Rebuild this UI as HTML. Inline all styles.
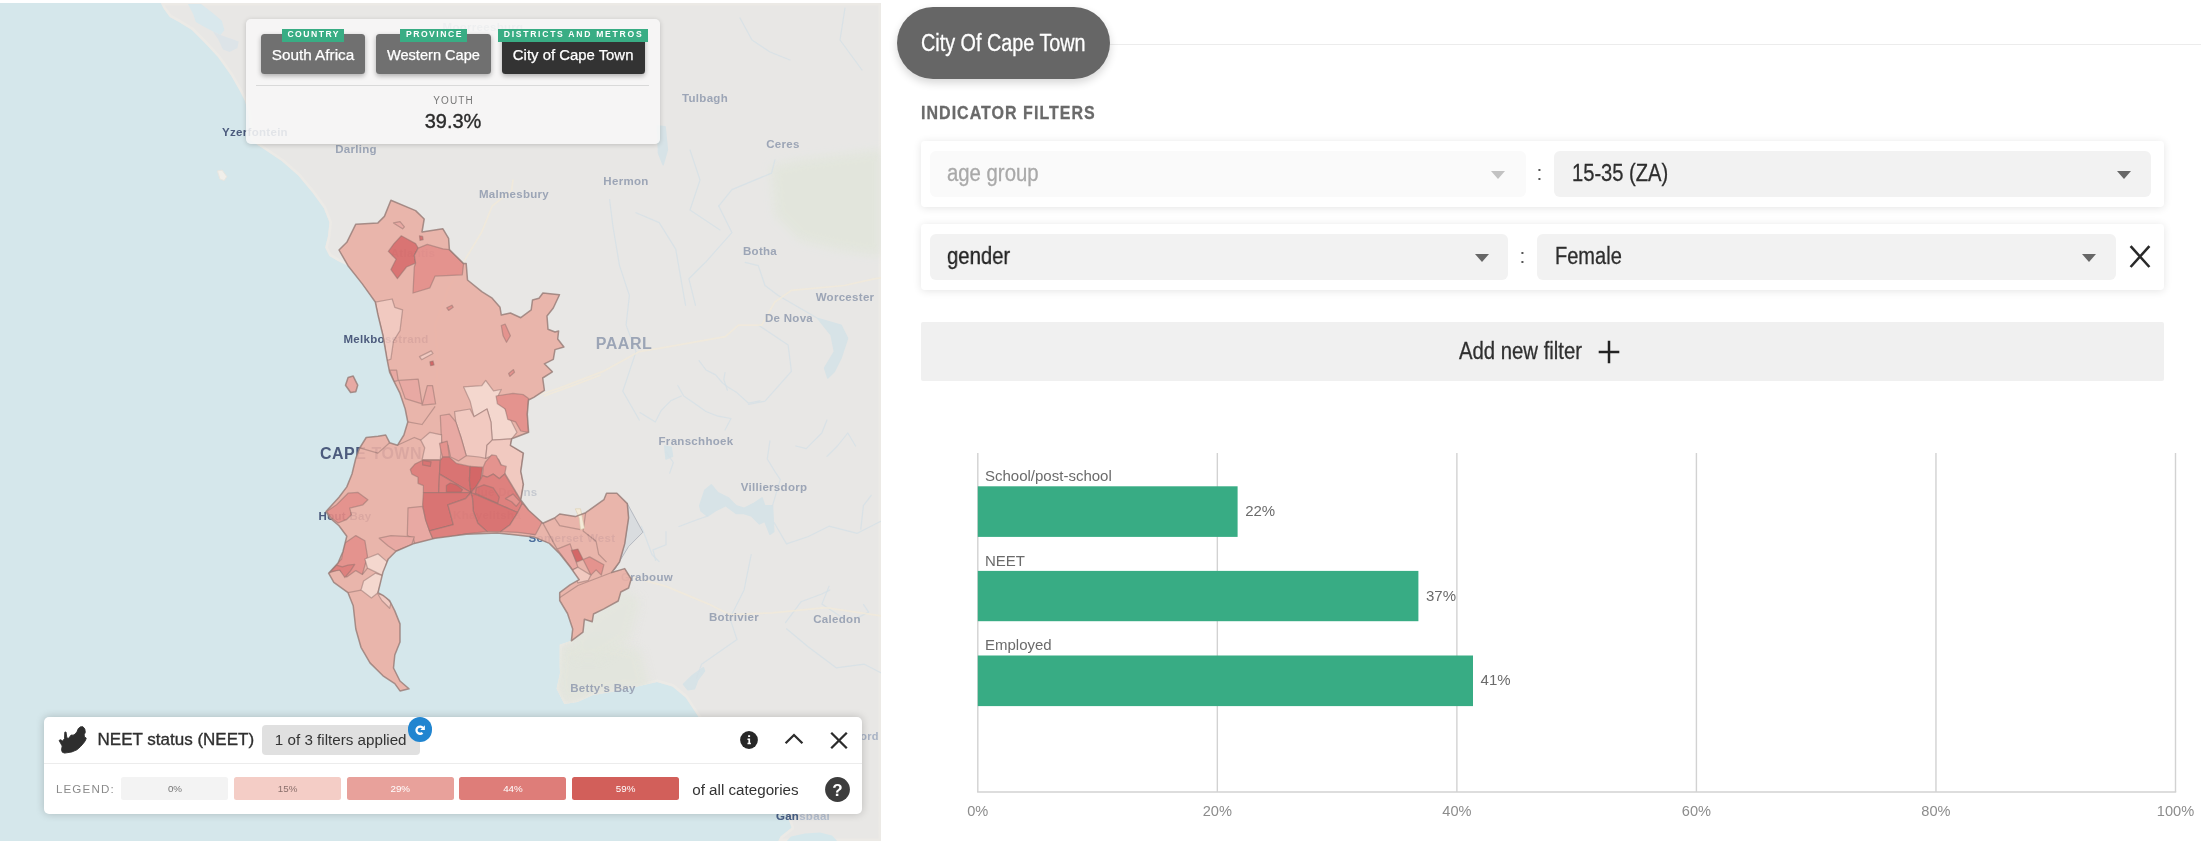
<!DOCTYPE html>
<html lang="en"><head><meta charset="utf-8"><title>City Of Cape Town - NEET status</title>
<style>
*{box-sizing:border-box;margin:0;padding:0}
html,body{width:2209px;height:847px;overflow:hidden;background:#fff}
#root{position:absolute;left:0;top:0;width:2209px;height:847px;overflow:hidden;will-change:transform}
body{position:relative;font-family:"Liberation Sans",sans-serif;color:#333}
.abs{position:absolute}
.nw{white-space:nowrap}
#map{position:absolute;left:0;top:3px;width:881px;height:838px;overflow:hidden;background:#e8e7e5}
.mapsvg{position:absolute;left:0;top:0;display:block}
.med{-webkit-text-stroke:0.35px currentColor}
/* breadcrumb panel */
#crumbs{position:absolute;left:246px;top:19px;width:414px;height:125px;background:rgba(247,247,247,.88);border-radius:5px;box-shadow:0 1px 5px rgba(0,0,0,.18)}
.cb{position:absolute;top:14.8px;height:39.8px;border-radius:3.5px;background:#707070;color:#fff;font-size:15.3px;line-height:20px;display:flex;align-items:center;justify-content:center;white-space:nowrap;box-shadow:0 2px 5px rgba(0,0,0,.3);padding-top:3.6px;-webkit-text-stroke:0.25px #fff}
.cb.dark{background:#333}
.tag{position:absolute;top:10px;height:12.6px;background:#39ad84;color:#fff;font-weight:bold;font-size:8.6px;line-height:11.4px;letter-spacing:1.55px;text-align:center;padding-left:1.5px;white-space:nowrap}
#crumbs .hr{position:absolute;left:10px;width:393px;top:65.6px;height:1.4px;background:#d9d9d9}
#crumbs .youth{position:absolute;left:0;width:414px;top:76.2px;text-align:center;font-size:10px;line-height:12px;letter-spacing:1.15px;color:#777;padding-left:1.15px}
#crumbs .val{position:absolute;left:0;width:414px;top:89.7px;text-align:center;font-size:20px;line-height:24px;color:#2b2b2b}
/* legend panel */
#legend{position:absolute;left:43.6px;top:717.4px;width:818.6px;height:97px;background:#fff;border-radius:5px;box-shadow:0 0 8px rgba(0,0,0,.2)}
#legend .hr{position:absolute;left:0;width:100%;top:45.2px;height:1.2px;background:#ececec}
#legend .title{position:absolute;left:54px;top:11px;font-size:17px;line-height:24px;color:#2f2f2f;white-space:nowrap}
#legend .chip{position:absolute;left:218.6px;top:7.6px;width:158px;height:30.4px;border-radius:4px;background:#e0e0e0;font-size:15.2px;line-height:30.4px;text-align:center;color:#333;white-space:nowrap;padding-right:1px}
#legend .blue{position:absolute;left:364px;top:0px;width:24.7px;height:24.7px;border-radius:50%;background:#2185d0}
#legend .lg{position:absolute;left:12.3px;top:64.6px;font-size:11.6px;line-height:14px;letter-spacing:1.15px;color:#8a8a8a}
.lb{position:absolute;top:59.5px;width:107px;height:23.2px;border-radius:2.5px;font-size:9.8px;line-height:23.6px;text-align:center;color:#fff}
#legend .oac{position:absolute;left:648.6px;top:63px;font-size:15.2px;line-height:20px;color:#333;white-space:nowrap}
/* right */
#pill{position:absolute;left:897.4px;top:7.2px;width:212.5px;height:71.7px;border-radius:36px;background:#666;box-shadow:0 4px 9px rgba(0,0,0,.16)}
.cond{position:absolute;white-space:nowrap;transform-origin:0 50%;display:inline-block;-webkit-text-stroke:0.3px currentColor}
#topline{position:absolute;left:1109px;top:43.8px;width:1092px;height:1.6px;background:#ececec}
.card{position:absolute;left:921.4px;width:1242.5px;background:#fff;border-radius:4px;box-shadow:0 1px 9px rgba(0,0,0,.11)}
.sel{position:absolute;height:45.8px;border-radius:6px;background:#f2f2f2}
.sel.dis{background:#fafafa}
.arr{position:absolute;width:0;height:0;border-left:7px solid transparent;border-right:7px solid transparent;border-top:8.2px solid #676767}
.arr.dis{border-top-color:#c2c2c2}
.colon{position:absolute;font-size:21px;line-height:24px;color:#555}
#addf{position:absolute;left:921.4px;top:322.4px;width:1242.5px;height:58.4px;background:#f0f0f0;border-radius:2px}
</style></head>
<body>
<div id="root">
<div id="map">
<svg class="mapsvg" style="filter:blur(0.7px)" width="881" height="838" viewBox="0 3 881 838">
<defs><clipPath id="cityclip"><path d="M339 250 L348 265.7 L362.3 283.9 L375.3 302 L378 315 L383 335.8 L387 359 L389.6 372.2 L393.5 380.4 L400 393.4 L405.2 409 L407.8 422 L403.9 435 L397.4 445.3 L389.6 442.7 L385.7 435 L378 436.2 L366.2 437.5 L359.7 448 L355.8 458.3 L352 474 L346.8 486.9 L339 497.3 L326 511.6 L329.9 518 L339 525.8 L346.8 536.2 L342.9 551.8 L338 563 L328.6 573.2 L333.8 582.3 L348 592.7 L353.2 605.7 L355.8 629 L361 647.3 L370 662.9 L383 675.8 L394.8 683.6 L400 690.9 L409 688.8 L400 681 L393.5 668 L394.8 655 L400 642 L400 623.9 L394.8 610.9 L389.6 600.5 L383 595.3 L378 592.7 L380.5 582.3 L383 572 L388.3 559 L396 551.2 L414.3 543.4 L435 538.2 L466.2 534.3 L497.4 533 L533.8 536.9 L549.4 543.4 L559.7 553.8 L570 566.8 L579.2 579.7 L570 584.9 L559.7 592.7 L559.7 600.5 L567.5 613.5 L572.7 629 L571.4 640.8 L583 632.2 L584.4 619.2 L592.2 621.8 L593.5 614 L603.9 608.8 L618.2 601 L620.8 592 L628.6 588 L631.2 579 L624.7 568.6 L611.7 572.5 L619.5 562 L624.7 543.9 L628.6 517.9 L627.3 503.6 L616.9 493.2 L606.5 493.2 L603.9 499.7 L585.7 512.7 L575.3 516.6 L559.7 514 L554.5 518 L542.9 523.2 L528.6 510.3 L520.8 499.9 L523.4 484.3 L520.8 471.3 L523.4 453.1 L510.4 445.3 L511.7 438.8 L528.6 432.3 L527.3 414.2 L528.5 400 L533.8 397.4 L544.4 390.4 L542.7 378 L552.4 371.8 L544.4 363.8 L553.3 359.4 L555 349.6 L563.9 347 L557.7 339 L558.6 331 L555 332 L548 329.3 L547 316 L553.3 308 L559.5 294.8 L542.9 293 L539 298.2 L532.5 300 L531.2 309.9 L520.8 317.7 L510.4 313 L501.3 315 L500 307.3 L492.2 298.2 L481.8 291.7 L467.5 280 L466.2 263.6 L463.6 263.6 L449.4 249.6 L448.6 238.4 L442.9 228.8 L422 232 L424.2 219 L415.6 210.6 L390.9 200.3 L384.4 216.4 L377.9 222.9 L355.8 224.2 L346.8 242.3Z"/></clipPath>
<clipPath id="landclip"><path d="M160.8 3 L164 9 L169.9 16.9 L179 22 L192 29.9 L205 42.9 L218 57 L231 75.3 L240 91 L245 101 L248.5 113 L249.8 126 L250.6 140.3 L266.2 150.6 L281.8 161 L298.3 175.4 L312.5 192.4 L323.8 208 L329.5 222.2 L328 236.3 L325.2 247.6 L329.5 256 L338 261 L348 265.7 L362.3 283.9 L375.3 302 L378 315 L383 335.8 L387 359 L389.6 372.2 L393.5 380.4 L400 393.4 L405.2 409 L407.8 422 L403.9 435 L397.4 445.3 L389.6 442.7 L385.7 435 L378 436.2 L366.2 437.5 L359.7 448 L355.8 458.3 L352 474 L346.8 486.9 L339 497.3 L326 511.6 L329.9 518 L339 525.8 L346.8 536.2 L342.9 551.8 L338 563 L328.6 573.2 L333.8 582.3 L348 592.7 L353.2 605.7 L355.8 629 L361 647.3 L370 662.9 L383 675.8 L394.8 683.6 L400 690.9 L409 688.8 L400 681 L393.5 668 L394.8 655 L400 642 L400 623.9 L394.8 610.9 L389.6 600.5 L383 595.3 L378 592.7 L380.5 582.3 L383 572 L388.3 559 L396 551.2 L414.3 543.4 L435 538.2 L466.2 534.3 L497.4 533 L533.8 536.9 L549.4 543.4 L559.7 553.8 L570 566.8 L579.2 579.7 L570 584.9 L559.7 592.7 L559.7 600.5 L567.5 613.5 L572.7 629 L571.4 640.8 L559.7 644.7 L559.7 665.5 L560 673 L556.6 688.7 L564.3 704 L577.5 702 L593 695 L617 691 L637 686.5 L657 682 L672.5 686.5 L685.7 697.5 L694.5 710.8 L699 717.4 L715 745 L740 775 L765 800 L787 814.5 L791.7 827.8 L780.6 836.6 L778.4 841 L881 841 L881 3Z"/></clipPath>
<linearGradient id="lg" x1="0" y1="0" x2="1" y2="0"><stop offset="0" stop-color="#e6e5e2"/><stop offset="1" stop-color="#e4e3e1"/></linearGradient>
<filter id="soft" x="-20%" y="-20%" width="140%" height="140%"><feGaussianBlur stdDeviation="5"/></filter>
</defs>
<rect x="0" y="3" width="881" height="838" fill="#d5e7eb"/>
<path d="M160.8 3 L164 9 L169.9 16.9 L179 22 L192 29.9 L205 42.9 L218 57 L231 75.3 L240 91 L245 101 L248.5 113 L249.8 126 L250.6 140.3 L266.2 150.6 L281.8 161 L298.3 175.4 L312.5 192.4 L323.8 208 L329.5 222.2 L328 236.3 L325.2 247.6 L329.5 256 L338 261 L348 265.7 L362.3 283.9 L375.3 302 L378 315 L383 335.8 L387 359 L389.6 372.2 L393.5 380.4 L400 393.4 L405.2 409 L407.8 422 L403.9 435 L397.4 445.3 L389.6 442.7 L385.7 435 L378 436.2 L366.2 437.5 L359.7 448 L355.8 458.3 L352 474 L346.8 486.9 L339 497.3 L326 511.6 L329.9 518 L339 525.8 L346.8 536.2 L342.9 551.8 L338 563 L328.6 573.2 L333.8 582.3 L348 592.7 L353.2 605.7 L355.8 629 L361 647.3 L370 662.9 L383 675.8 L394.8 683.6 L400 690.9 L409 688.8 L400 681 L393.5 668 L394.8 655 L400 642 L400 623.9 L394.8 610.9 L389.6 600.5 L383 595.3 L378 592.7 L380.5 582.3 L383 572 L388.3 559 L396 551.2 L414.3 543.4 L435 538.2 L466.2 534.3 L497.4 533 L533.8 536.9 L549.4 543.4 L559.7 553.8 L570 566.8 L579.2 579.7 L570 584.9 L559.7 592.7 L559.7 600.5 L567.5 613.5 L572.7 629 L571.4 640.8 L559.7 644.7 L559.7 665.5 L560 673 L556.6 688.7 L564.3 704 L577.5 702 L593 695 L617 691 L637 686.5 L657 682 L672.5 686.5 L685.7 697.5 L694.5 710.8 L699 717.4 L715 745 L740 775 L765 800 L787 814.5 L791.7 827.8 L780.6 836.6 L778.4 841 L881 841 L881 3Z" fill="#e8e7e5"/>
<path d="M160.8 3 L164 9 L169.9 16.9 L179 22 L192 29.9 L205 42.9 L218 57 L231 75.3 L240 91 L245 101 L248.5 113 L249.8 126 L250.6 140.3 L266.2 150.6 L281.8 161 L298.3 175.4 L312.5 192.4 L323.8 208 L329.5 222.2 L328 236.3 L325.2 247.6 L329.5 256 L338 261 L348 265.7 L362.3 283.9 L375.3 302 L378 315 L383 335.8 L387 359 L389.6 372.2 L393.5 380.4 L400 393.4 L405.2 409 L407.8 422 L403.9 435 L397.4 445.3 L389.6 442.7 L385.7 435 L378 436.2 L366.2 437.5 L359.7 448 L355.8 458.3 L352 474 L346.8 486.9 L339 497.3 L326 511.6 L329.9 518 L339 525.8 L346.8 536.2 L342.9 551.8 L338 563 L328.6 573.2 L333.8 582.3 L348 592.7 L353.2 605.7 L355.8 629 L361 647.3 L370 662.9 L383 675.8 L394.8 683.6 L400 690.9 L409 688.8 L400 681 L393.5 668 L394.8 655 L400 642 L400 623.9 L394.8 610.9 L389.6 600.5 L383 595.3 L378 592.7 L380.5 582.3 L383 572 L388.3 559 L396 551.2 L414.3 543.4 L435 538.2 L466.2 534.3 L497.4 533 L533.8 536.9 L549.4 543.4 L559.7 553.8 L570 566.8 L579.2 579.7 L570 584.9 L559.7 592.7 L559.7 600.5 L567.5 613.5 L572.7 629 L571.4 640.8 L559.7 644.7 L559.7 665.5 L560 673 L556.6 688.7 L564.3 704 L577.5 702 L593 695 L617 691 L637 686.5 L657 682 L672.5 686.5 L685.7 697.5 L694.5 710.8 L699 717.4 L715 745 L740 775 L765 800 L787 814.5 L791.7 827.8 L780.6 836.6 L778.4 841 L881 841 L881 3Z" fill="none" stroke="#eceae6" stroke-width="5" stroke-linejoin="round" clip-path="url(#landclip)"/>
<path d="M212.7 31.2 L220.5 35 L238.7 41.6 L237.4 48 L229.6 52 L223 49.4 L218 39Z" fill="#dde4e8"/>
<path d="M771 166 L800 160 L881 150 L881 256 L840 250 L800 240 L775 215Z" fill="#e2e5dc" opacity="0.9" filter="url(#soft)"/>
<path d="M560 645 L600 640 L640 650 L650 690 L617 691 L593 695 L577 702 L564 704 L556 689Z" fill="#e2e5dc" opacity="0.9" filter="url(#soft)" clip-path="url(#landclip)"/>
<path d="M571 640 L590 615 L625 590 L640 600 L630 640 L600 660 L575 660Z" fill="#e2e5dc" opacity="0.8" filter="url(#soft)" clip-path="url(#landclip)"/>
<path d="M786 842 L791 836.5 L805 833.5 L820 832.5 L832 835.5 L838 842Z" fill="#d5e7eb"/>
<path d="M188 3.9 L201 3.9 L212.7 13 L221.8 20.8 L224.4 29.9 L220.5 35 L212.7 31.2 L205 27.3 L195.8 22 L193.2 14.3Z" fill="#d9e8ed"/>
<path d="M817.9 318.5 L841 325.1 L847.6 338.3 L841 358.2 L834.4 371.4 L827.8 378 L824.5 368.1 L834.4 351.6 L831.1 335Z" fill="#d7e3e7" stroke="#d7e3e7" stroke-width="1.5" stroke-linejoin="round"/>
<path d="M699.7 505.7 L704.9 490.1 L711.4 484.9 L717.9 492.7 L728.3 497.9 L736.1 505.7 L743.9 508.3 L754.3 503.1 L762.1 497.9 L764.7 505.7 L772.5 505.7 L773.8 531.7 L769.9 534.3 L764.7 521.3 L759.5 523.9 L751.7 516.1 L743.9 513.5 L736.1 513.5 L725.7 505.7 L715.3 510.9 L707.5 516.1 L701 510.9Z" fill="#d7e3e7" stroke="#d7e3e7" stroke-width="1.5" stroke-linejoin="round"/>
<path d="M683.5 684.3 L692.3 675.5 L703.4 667.7 L704.5 671 L697.8 679.9 L694.5 688.7 L687.9 689.8Z" fill="#d7e3e7" stroke="#d7e3e7" stroke-width="1.5" stroke-linejoin="round"/>
<path d="M657.5 126.1 L665.1 126.8 L667.4 149.9 L663.1 164.8 L658.5 153.2Z" fill="#d7e3e7" stroke="#d7e3e7" stroke-width="1.5" stroke-linejoin="round"/>
<path d="M664.7 446 L671.2 447.3 L672.5 456.4 L666 459Z" fill="#d7e3e7" stroke="#d7e3e7" stroke-width="1.5" stroke-linejoin="round"/>
<path d="M609.6 199.5 L612.9 226 L619.5 265.6 L629.4 295.4 L626.1 325.1 L636 351.6 L622.8 391.2 L639.3 420" fill="none" stroke="#d6e1e6" stroke-width="1.2" opacity="0.85" stroke-linejoin="round" stroke-linecap="round"/>
<path d="M718.7 206.1 L731.9 232.6 L705.5 262.3 L688.9 278.8 L695.5 305.3" fill="none" stroke="#d6e1e6" stroke-width="1.2" opacity="0.85" stroke-linejoin="round" stroke-linecap="round"/>
<path d="M774.9 159.8 L771.6 173.1 L731.9 189.6 L718.7 206.1" fill="none" stroke="#d6e1e6" stroke-width="1.2" opacity="0.85" stroke-linejoin="round" stroke-linecap="round"/>
<path d="M745.1 262.3 L758.3 265.6 L765 285.5 L778.2 295.4 L817.9 318.5" fill="none" stroke="#d6e1e6" stroke-width="1.2" opacity="0.85" stroke-linejoin="round" stroke-linecap="round"/>
<path d="M758.3 325.1 L788.1 345 L791.4 371.4 L765 401.2 L748.4 404.5" fill="none" stroke="#d6e1e6" stroke-width="1.2" opacity="0.85" stroke-linejoin="round" stroke-linecap="round"/>
<path d="M636 212.7 L659.2 222.6 L675.7 249.1 L685.6 305.3" fill="none" stroke="#d6e1e6" stroke-width="1.2" opacity="0.85" stroke-linejoin="round" stroke-linecap="round"/>
<path d="M774.2 522.7 L786.5 543.9 L807.8 536.8 L829 526.2 L857.3 533.3 L885 519.1" fill="none" stroke="#d6e1e6" stroke-width="1.2" opacity="0.85" stroke-linejoin="round" stroke-linecap="round"/>
<path d="M751.2 554.5 L744.1 589.9 L729.9 618.2 L737 639.5 L701.6 664.2 L696.3 678.4" fill="none" stroke="#d6e1e6" stroke-width="1.2" opacity="0.85" stroke-linejoin="round" stroke-linecap="round"/>
<path d="M786.5 628.8 L807.8 646.5 L836.1 667.8 L864.4 664.2 L885 674.9" fill="none" stroke="#d6e1e6" stroke-width="1.2" opacity="0.85" stroke-linejoin="round" stroke-linecap="round"/>
<path d="M641.4 526.2 L652 554.5 L659.1 561.6" fill="none" stroke="#d6e1e6" stroke-width="1.2" opacity="0.85" stroke-linejoin="round" stroke-linecap="round"/>
<path d="M666.2 451.9 L673.3 462.5 L669.7 473.1" fill="none" stroke="#d6e1e6" stroke-width="1.2" opacity="0.85" stroke-linejoin="round" stroke-linecap="round"/>
<path d="M829 586.4 L821.9 604.1 L843.2 618.2" fill="none" stroke="#d6e1e6" stroke-width="1.2" opacity="0.85" stroke-linejoin="round" stroke-linecap="round"/>
<path d="M699 360.7 L706 370 L715.6 374.9 L722.6 383 L727.4 386.7 L736.8 392.6 L748.6 403.2 L760 400.8" fill="none" stroke="#d6e1e6" stroke-width="1.2" opacity="0.85" stroke-linejoin="round" stroke-linecap="round"/>
<path d="M725 372.5 L723.8 379.6 L727.4 390.2" fill="none" stroke="#d6e1e6" stroke-width="1.2" opacity="0.85" stroke-linejoin="round" stroke-linecap="round"/>
<path d="M677.8 385.5 L683.7 396 L694.3 403.2 L706 411.5 L718 416.2 L731 418.5 L725 430" fill="none" stroke="#d6e1e6" stroke-width="1.2" opacity="0.85" stroke-linejoin="round" stroke-linecap="round"/>
<path d="M681.3 396 L670.7 400.8 L661.3 410.3 L655.3 422 L640 412.6" fill="none" stroke="#d6e1e6" stroke-width="1.2" opacity="0.85" stroke-linejoin="round" stroke-linecap="round"/>
<path d="M769.9 440.8 L767.3 459 L775.1 471.9 L780.3 479.7 L772.5 505.7" fill="none" stroke="#d6e1e6" stroke-width="1.2" opacity="0.85" stroke-linejoin="round" stroke-linecap="round"/>
<path d="M795.8 446 L806.2 448.6 L821.8 433 L827 420" fill="none" stroke="#d6e1e6" stroke-width="1.2" opacity="0.85" stroke-linejoin="round" stroke-linecap="round"/>
<path d="M827 456.4 L837.4 446 L847.8 433 L855.6 446" fill="none" stroke="#d6e1e6" stroke-width="1.2" opacity="0.85" stroke-linejoin="round" stroke-linecap="round"/>
<path d="M655.6 560.3 L653 549.9 L666 544.7 L666 531.7" fill="none" stroke="#d6e1e6" stroke-width="1.2" opacity="0.85" stroke-linejoin="round" stroke-linecap="round"/>
<path d="M679 526.5 L699.7 518.7 L707.5 516.1" fill="none" stroke="#d6e1e6" stroke-width="1.2" opacity="0.85" stroke-linejoin="round" stroke-linecap="round"/>
<path d="M860.8 529.1 L863.4 505.7 L871.2 495.3" fill="none" stroke="#d6e1e6" stroke-width="1.2" opacity="0.85" stroke-linejoin="round" stroke-linecap="round"/>
<path d="M785.5 622.6 L801 601.8 L821.8 594 L829.6 590.1" fill="none" stroke="#d6e1e6" stroke-width="1.2" opacity="0.85" stroke-linejoin="round" stroke-linecap="round"/>
<path d="M863.4 604.4 L868.6 612.2 L858.2 617.4" fill="none" stroke="#d6e1e6" stroke-width="1.2" opacity="0.85" stroke-linejoin="round" stroke-linecap="round"/>
<path d="M740 18 L752 40 L770 52 L790 60" fill="none" stroke="#d6e1e6" stroke-width="1.2" opacity="0.85" stroke-linejoin="round" stroke-linecap="round"/>
<path d="M845 8 L840 40 L862 70" fill="none" stroke="#d6e1e6" stroke-width="1.2" opacity="0.85" stroke-linejoin="round" stroke-linecap="round"/>
<path d="M690 150 L700 180 L690 210 L720 230" fill="none" stroke="#d6e1e6" stroke-width="1.2" opacity="0.85" stroke-linejoin="round" stroke-linecap="round"/>
<path d="M540.2 394.5 L560 387.9 L603 371.4 L639.3 351.6 L669.1 346.6 L725.3 336.7 L738.5 325.1 L761.7 325.1 L774.9 302 L791.4 290.4 L844.3 285.5 L874 278.8 L885.6 277.2" fill="none" stroke="#f1ead9" stroke-width="1.7" opacity="0.8" stroke-linejoin="round" stroke-linecap="round"/>
<path d="M627.3 575.8 L666.2 586.4 L708.7 604.1 L729.9 614.7 L772.4 612.9 L825.5 607.6 L885 616.5" fill="none" stroke="#f1ead9" stroke-width="1.7" opacity="0.8" stroke-linejoin="round" stroke-linecap="round"/>
<path d="M513 180 L511.7 190.4 L492.2 206 L481.8 231.9 L466.2 257.9 L448.1 289.1 L435.1 325.5 L437.7 361.8 L435.1 400" fill="none" stroke="#f1ead9" stroke-width="1.7" opacity="0.8" stroke-linejoin="round" stroke-linecap="round"/>
<path d="M544.2 396 L572.7 385.6 L600 375.2" fill="none" stroke="#f1ead9" stroke-width="1.7" opacity="0.8" stroke-linejoin="round" stroke-linecap="round"/>
<path d="M217.4 170.9 L222.1 170.1 L226.8 176.6 L224.2 180.5 L220 179.2Z" fill="#f1efea" stroke="#e8e6e0" stroke-width="1"/>
<g font-family="'Liberation Sans', sans-serif" font-weight="bold" text-anchor="middle" letter-spacing="0.3">
<text x="483" y="31" font-size="11.5" fill="#9ca5b6" opacity="0.8">Moorreesburg</text>
<text x="705" y="102" font-size="11.5" fill="#9ca5b6" opacity="1">Tulbagh</text>
<text x="255" y="135.5" font-size="11.5" fill="#4c5b7d" opacity="1">Yzerfontein</text>
<text x="783" y="148" font-size="11.5" fill="#9ca5b6" opacity="1">Ceres</text>
<text x="356" y="153" font-size="11.5" fill="#9ca5b6" opacity="1">Darling</text>
<text x="626" y="185" font-size="11.5" fill="#9ca5b6" opacity="1">Hermon</text>
<text x="514" y="198" font-size="11.5" fill="#9ca5b6" opacity="1">Malmesbury</text>
<text x="760" y="255" font-size="11.5" fill="#9ca5b6" opacity="1">Botha</text>
<text x="845" y="301" font-size="11.5" fill="#9ca5b6" opacity="1">Worcester</text>
<text x="789" y="322" font-size="11.5" fill="#9ca5b6" opacity="1">De Nova</text>
<text x="386" y="343" font-size="11.5" fill="#4c5b7d" opacity="1">Melkbosstrand</text>
<text x="696" y="445" font-size="11.5" fill="#9ca5b6" opacity="1">Franschhoek</text>
<text x="774" y="491" font-size="11.5" fill="#9ca5b6" opacity="1">Villiersdorp</text>
<text x="345" y="520" font-size="11.5" fill="#4c5b7d" opacity="1">Hout Bay</text>
<text x="503" y="496" font-size="11.5" fill="#9ca5b6" opacity="0.45">Blue Downs</text>
<text x="487" y="519" font-size="11.5" fill="#9ca5b6" opacity="0.45">Khayelitsha</text>
<text x="572" y="542" font-size="11.5" fill="#4c6f9d" opacity="1">Somerset West</text>
<text x="647" y="581" font-size="11.5" fill="#9ca5b6" opacity="1">Grabouw</text>
<text x="734" y="621" font-size="11.5" fill="#9ca5b6" opacity="1">Botrivier</text>
<text x="837" y="623" font-size="11.5" fill="#9ca5b6" opacity="1">Caledon</text>
<text x="603" y="692" font-size="11.5" fill="#9ca5b6" opacity="1">Betty's Bay</text>
<text x="855" y="740" font-size="11" fill="#a8b2c4" opacity="1">Stanford</text>
<text x="803" y="819.5" font-size="11.5" fill="#b4bfd0" opacity="1">Gansbaai</text>
<text x="413" y="257" font-size="11.5" fill="#9ca5b6" opacity="0.5">Atlantis</text>
<clipPath id="ganclip"><rect x="770" y="805" width="28.2" height="22"/></clipPath>
<text x="803" y="819.5" font-size="11.5" fill="#4a6288" clip-path="url(#ganclip)">Gansbaai</text>
<text x="624" y="349" font-size="16" fill="#9ca5b6" letter-spacing="0.5">PAARL</text>
<text x="371" y="459" font-size="16" fill="#4c5b7d" letter-spacing="0.5">CAPE TOWN</text>
</g>
<path d="M627.3 503.6 L642.9 532.2 L628.6 546.5 L614.3 569.9 L619.5 562.1 L624.7 543.9 L628.6 517.9Z" fill="#d6d9de" fill-opacity="0.85" stroke="#a9aeb8" stroke-width="0.8"/>
<g opacity="0.9">
<path d="M348.1 377.4 L353.2 376.1 L357.7 385.2 L355.8 391.7 L350.6 392.5 L345.5 385.2Z" fill="#e9a39c"/>
<path d="M339 250 L348 265.7 L362.3 283.9 L375.3 302 L378 315 L383 335.8 L387 359 L389.6 372.2 L393.5 380.4 L400 393.4 L405.2 409 L407.8 422 L403.9 435 L397.4 445.3 L389.6 442.7 L385.7 435 L378 436.2 L366.2 437.5 L359.7 448 L355.8 458.3 L352 474 L346.8 486.9 L339 497.3 L326 511.6 L329.9 518 L339 525.8 L346.8 536.2 L342.9 551.8 L338 563 L328.6 573.2 L333.8 582.3 L348 592.7 L353.2 605.7 L355.8 629 L361 647.3 L370 662.9 L383 675.8 L394.8 683.6 L400 690.9 L409 688.8 L400 681 L393.5 668 L394.8 655 L400 642 L400 623.9 L394.8 610.9 L389.6 600.5 L383 595.3 L378 592.7 L380.5 582.3 L383 572 L388.3 559 L396 551.2 L414.3 543.4 L435 538.2 L466.2 534.3 L497.4 533 L533.8 536.9 L549.4 543.4 L559.7 553.8 L570 566.8 L579.2 579.7 L570 584.9 L559.7 592.7 L559.7 600.5 L567.5 613.5 L572.7 629 L571.4 640.8 L583 632.2 L584.4 619.2 L592.2 621.8 L593.5 614 L603.9 608.8 L618.2 601 L620.8 592 L628.6 588 L631.2 579 L624.7 568.6 L611.7 572.5 L619.5 562 L624.7 543.9 L628.6 517.9 L627.3 503.6 L616.9 493.2 L606.5 493.2 L603.9 499.7 L585.7 512.7 L575.3 516.6 L559.7 514 L554.5 518 L542.9 523.2 L528.6 510.3 L520.8 499.9 L523.4 484.3 L520.8 471.3 L523.4 453.1 L510.4 445.3 L511.7 438.8 L528.6 432.3 L527.3 414.2 L528.5 400 L533.8 397.4 L544.4 390.4 L542.7 378 L552.4 371.8 L544.4 363.8 L553.3 359.4 L555 349.6 L563.9 347 L557.7 339 L558.6 331 L555 332 L548 329.3 L547 316 L553.3 308 L559.5 294.8 L542.9 293 L539 298.2 L532.5 300 L531.2 309.9 L520.8 317.7 L510.4 313 L501.3 315 L500 307.3 L492.2 298.2 L481.8 291.7 L467.5 280 L466.2 263.6 L463.6 263.6 L449.4 249.6 L448.6 238.4 L442.9 228.8 L422 232 L424.2 219 L415.6 210.6 L390.9 200.3 L384.4 216.4 L377.9 222.9 L355.8 224.2 L346.8 242.3Z" fill="#eab0a5"/>
<g clip-path="url(#cityclip)" stroke="#8a6662" stroke-opacity="0.5" stroke-width="1.25" stroke-linejoin="round">
<path d="M401.3 235.8 L415.6 243.6 L418.2 248.1 L414.3 255.3 L415.6 263.1 L406.5 267 L397.4 278.7 L390.9 269.6 L396.1 259.2 L388.3 251.4 L394 243.6Z" fill="#d86867"/>
<path d="M418.2 248.1 L427.3 244.4 L442.9 248.8 L449.4 249.6 L463.6 263.6 L462.3 274.8 L435.1 276.1 L429.9 287.8 L413 293 L414.3 267 L415.6 263.1 L414.3 255.3Z" fill="#e48a85"/>
<path d="M375.3 302.1 L392.2 299 L394.8 307.3 L402.6 309.9 L400 330.6 L393.5 341 L390.9 359.2 L387 360.5 L383.1 335.8 L377.9 315.1Z" fill="#f2c6bd"/>
<path d="M393.5 222.9 L400 221.6 L404.4 226.8 L402.6 228.8 L397.4 225.5Z" fill="#e9a39c"/>
<path d="M419.5 235.8 L422.6 236.4 L423.1 239.7 L420 240.3Z" fill="#d86867"/>
<path d="M446.8 307.8 L451.9 305.2 L453.2 307.3 L448.6 310.4Z" fill="#e48a85"/>
<path d="M501.3 325.5 L505.2 324.2 L510.4 335.8 L506.5 342.3 L503.1 335.8Z" fill="#e48a85"/>
<path d="M419.5 356.6 L431.2 350.9 L433 353.5 L421.6 359.7Z" fill="#f2c6bd"/>
<path d="M429.9 361.8 L433 361 L434 364.9 L430.6 365.7Z" fill="#d25a5a"/>
<path d="M508.6 373.5 L513.5 369.6 L514.5 372.2 L509.9 376.4Z" fill="#e48a85"/>
<path d="M463.6 386.9 L481.8 385.6 L485.7 380.4 L493.5 390.8 L501.3 389.5 L497.4 397.3 L505.2 409 L516.9 432.3 L511.7 438.8 L492.2 440.1 L490.9 421.9 L487 409 L474 416.8 L470.1 401.2Z" fill="#f6d6cc"/>
<path d="M496.1 396 L513 393.4 L523.4 394.7 L528.6 398.6 L527.3 414.2 L528.6 432.3 L520.8 431 L515.6 421.9 L507.8 419.4 L505.2 409 L497.4 403.8Z" fill="#e48a85"/>
<path d="M454.5 411.6 L470.1 409 L474 416.8 L487 409 L490.9 421.9 L492.2 440.1 L487 445.3 L485.7 458.3 L479.2 457 L466.2 455.7 L461 437.5 L455.8 421.9Z" fill="#f2c6bd"/>
<path d="M440.3 415.5 L449.4 414.2 L455.8 421.9 L461 437.5 L466.2 455.7 L458.4 460.9 L450.6 457 L448.1 445.3 L441.6 442.7Z" fill="#e9a39c"/>
<path d="M398.7 380.4 L418.2 379.1 L422.1 403.8 L405.2 398.6Z" fill="#e9a39c"/>
<path d="M427.3 385.6 L432.5 385.6 L435.6 403.8 L422.1 405.1Z" fill="#e9a39c"/>
<path d="M389.6 370 L396.6 370 L398.2 380.4 L394 381.7Z" fill="#e9a39c"/>
<path d="M420.8 440.1 L429.9 432.3 L441.6 434.9 L441.6 442.7 L440.3 459.6 L422.1 459.6 L424.7 447.9Z" fill="#f2c6bd"/>
<path d="M492.2 440.1 L511.7 438.8 L510.4 445.3 L523.4 453.1 L520.8 471.3 L523.4 484.3 L520.8 499.9 L505.2 473.9 L498.7 459.6 L492.2 455.7 L485.7 458.3 L487 445.3Z" fill="#f2c6bd"/>
<path d="M408 507.8 L422.6 506.3 L425.7 520.1 L429.5 530.9 L433.4 540.1 L414.9 544.7 L413.4 538.5 L407.3 535.5Z" fill="#e9a39c"/>
<path d="M410.3 469.5 L414.9 464.1 L422.6 460.3 L440.3 460.3 L439.5 474.1 L438.7 492.5 L423.4 492.5 L423.4 485.6 L418 483.3 L418 477.2 L411.9 474.1Z" fill="#dd7673"/>
<path d="M422.6 460.3 L431.1 461.8 L430.3 466.4 L422.6 464.9Z" fill="#d86867"/>
<path d="M439.5 443.4 L447.2 441.1 L449.5 457.2 L442.6 457.2 L441 451.1Z" fill="#e48a85"/>
<path d="M440.3 460.3 L442.6 457.2 L449.5 457.2 L456.4 463.4 L470.2 466.4 L469.4 480.2 L470.9 492.5 L439.5 474.1Z" fill="#d86867"/>
<path d="M439.5 474.1 L470.9 492.5 L438.7 492.5Z" fill="#dd7673"/>
<path d="M446.4 485.6 L450.2 483 L456.4 484.8 L462.5 489.4 L461 492.2 L446.4 492.2Z" fill="#d25a5a"/>
<path d="M470.2 466.4 L482.5 467.2 L480.9 478.7 L476.3 486.4 L470.9 492.5 L469.4 480.2Z" fill="#d25a5a"/>
<path d="M483.2 467.2 L485.5 461.8 L491.7 454.9 L496.3 455.7 L500.9 464.9 L506.2 466.4 L504.7 474.1 L499.3 478.7 L493.2 474.1 L487.1 477.2 L482.5 475.6Z" fill="#e48a85"/>
<path d="M482.5 475.6 L487.1 477.2 L493.2 474.1 L499.3 478.7 L504.7 474.1 L522.3 503.2 L517.7 512.5 L470.9 492.5 L476.3 486.4 L480.9 478.7Z" fill="#dd7673"/>
<path d="M476.3 487.9 L484 484.8 L493.2 487.9 L499.3 497.1 L497.8 503.2 L487.1 498.6 L475.5 493.3Z" fill="#d86867"/>
<path d="M505.5 498.6 L513.1 494 L520 501.7 L516.2 506.3 L511.6 501.7Z" fill="#e48a85"/>
<path d="M470.9 492.5 L517.7 512.5 L510.1 524.7 L500.9 531.6 L487.1 531.6 L477.8 523.2 L473.2 510.9 L472.5 498.6Z" fill="#d86867"/>
<path d="M522.3 503.2 L530 510.9 L542.3 521.7 L535.4 534.7 L517.7 532.4 L500.9 531.6 L510.1 524.7 L517.7 512.5Z" fill="#e48a85"/>
<path d="M423.4 492.5 L470.9 492.5 L465.6 498.6 L447.9 504.8 L453.3 524.7 L429.5 530.9 L425.7 520.1 L422.6 504.8Z" fill="#d86867"/>
<path d="M447.9 504.8 L465.6 498.6 L470.9 492.5 L472.5 498.6 L473.2 510.9 L477.8 523.2 L487.1 531.6 L465.6 533.9 L433.4 540.1 L429.5 530.9 L453.3 524.7Z" fill="#dd7673"/>
<path d="M344.2 543.4 L355.8 535.6 L364.9 540.8 L367.5 556.4 L362.3 574.5 L355.8 570.6 L346.8 577.1 L339 569.4 L328.6 573.2 L333.8 566.8 L341.6 559Z" fill="#e48a85"/>
<path d="M364.9 559 L377.9 553.8 L387 561.6 L383.1 575.8 L375.3 571.9 L367.5 568.1Z" fill="#f6d6cc"/>
<path d="M363.6 581 L375.3 573.2 L383.1 575.8 L377.9 592.7 L371.4 597.9 L361 590.1Z" fill="#f6d6cc"/>
<path d="M379.2 538.2 L390.9 535.6 L414.3 536.9 L411.7 544.7 L396.1 551.2 L388.3 546Z" fill="#e9a39c"/>
<path d="M377.9 594 L384.4 595.3 L390.9 603.1 L389.6 608.3 L381.8 600.5Z" fill="#f2c6bd"/>
<path d="M329.9 571.7 L336.5 565.1 L342.3 566.8 L348 565.1 L354.7 564.3 L350.5 570.9 L344.8 577.5 L339.8 570.1Z" fill="#dd7673"/>
<path d="M326.6 511.4 L336.5 504.8 L348 493.2 L358 492.4 L367.9 499.8 L362.9 504.8 L349.7 508.1 L351.4 514.7 L346.4 519.7 L338.1 523 L331.5 518Z" fill="#e48a85"/>
<path d="M557.1 549.1 L570.1 543.9 L577.9 567.3 L572.7 569.9Z" fill="#e9a39c"/>
<path d="M571.4 550.4 L577.9 549.1 L583.1 559.5 L576.6 562.1Z" fill="#d25a5a"/>
<path d="M583.1 559.5 L589.6 556.9 L603.9 564.7 L601.3 575.1 L596.1 569.9 L590.9 575.1Z" fill="#e48a85"/>
<path d="M572.7 569.9 L577.9 567.3 L590.9 575.1 L588.3 580.3 L577.9 582.9Z" fill="#f2c6bd"/>
<path d="M407.8 421.9 L422.1 424.5 L435.1 406.4" fill="none"/>
<path d="M397.4 445.3 L414.3 437.5 L420.8 440.1" fill="none"/>
<path d="M359.7 447.9 L377.9 453.1 L389.6 442.7" fill="none"/>
<path d="M542.9 523.1 L557.1 549.1" fill="none"/>
<path d="M585.7 512.7 L583.1 530.9 L596.1 541.3 L598.7 554.3 L606.5 562.1" fill="none"/>
<path d="M558.4 598.4 L577.9 585.5 L611.7 572.5" fill="none"/>
<path d="M554.5 517.9 L559.7 525.7 L580.5 529.6" fill="none"/>
<path d="M348.1 592.7 L361 590.1" fill="none"/>
<path d="M362.3 574.5 L367.5 568.1" fill="none"/>
<path d="M388.3 559 L387 561.6" fill="none"/>
</g>
<path d="M575.3 508.8 L580.5 508.8 L584.4 528.3 L580.5 529.6 L579.2 517.9Z" fill="#f6ecd8" stroke="#d9c9a8" stroke-width="0.6"/>
</g>
<path d="M339 250 L348 265.7 L362.3 283.9 L375.3 302 L378 315 L383 335.8 L387 359 L389.6 372.2 L393.5 380.4 L400 393.4 L405.2 409 L407.8 422 L403.9 435 L397.4 445.3 L389.6 442.7 L385.7 435 L378 436.2 L366.2 437.5 L359.7 448 L355.8 458.3 L352 474 L346.8 486.9 L339 497.3 L326 511.6 L329.9 518 L339 525.8 L346.8 536.2 L342.9 551.8 L338 563 L328.6 573.2 L333.8 582.3 L348 592.7 L353.2 605.7 L355.8 629 L361 647.3 L370 662.9 L383 675.8 L394.8 683.6 L400 690.9 L409 688.8 L400 681 L393.5 668 L394.8 655 L400 642 L400 623.9 L394.8 610.9 L389.6 600.5 L383 595.3 L378 592.7 L380.5 582.3 L383 572 L388.3 559 L396 551.2 L414.3 543.4 L435 538.2 L466.2 534.3 L497.4 533 L533.8 536.9 L549.4 543.4 L559.7 553.8 L570 566.8 L579.2 579.7 L570 584.9 L559.7 592.7 L559.7 600.5 L567.5 613.5 L572.7 629 L571.4 640.8 L583 632.2 L584.4 619.2 L592.2 621.8 L593.5 614 L603.9 608.8 L618.2 601 L620.8 592 L628.6 588 L631.2 579 L624.7 568.6 L611.7 572.5 L619.5 562 L624.7 543.9 L628.6 517.9 L627.3 503.6 L616.9 493.2 L606.5 493.2 L603.9 499.7 L585.7 512.7 L575.3 516.6 L559.7 514 L554.5 518 L542.9 523.2 L528.6 510.3 L520.8 499.9 L523.4 484.3 L520.8 471.3 L523.4 453.1 L510.4 445.3 L511.7 438.8 L528.6 432.3 L527.3 414.2 L528.5 400 L533.8 397.4 L544.4 390.4 L542.7 378 L552.4 371.8 L544.4 363.8 L553.3 359.4 L555 349.6 L563.9 347 L557.7 339 L558.6 331 L555 332 L548 329.3 L547 316 L553.3 308 L559.5 294.8 L542.9 293 L539 298.2 L532.5 300 L531.2 309.9 L520.8 317.7 L510.4 313 L501.3 315 L500 307.3 L492.2 298.2 L481.8 291.7 L467.5 280 L466.2 263.6 L463.6 263.6 L449.4 249.6 L448.6 238.4 L442.9 228.8 L422 232 L424.2 219 L415.6 210.6 L390.9 200.3 L384.4 216.4 L377.9 222.9 L355.8 224.2 L346.8 242.3Z" fill="none" stroke="#957a76" stroke-opacity="0.8" stroke-width="1.5" stroke-linejoin="round"/>
<path d="M348.1 377.4 L353.2 376.1 L357.7 385.2 L355.8 391.7 L350.6 392.5 L345.5 385.2Z" fill="none" stroke="#957a76" stroke-opacity="0.8" stroke-width="1.5" stroke-linejoin="round"/>
</svg>
</div>
<div id="crumbs">
<div class="cb" style="left:14.7px;width:104.6px;font-size:15.3px">South Africa</div>
<div class="cb" style="left:129.9px;width:115.1px;font-size:14.6px">Western Cape</div>
<div class="cb dark" style="left:255.6px;width:143.1px;font-size:14.9px">City of Cape Town</div>
<div class="tag" style="left:36px;width:62px;letter-spacing:1.5px">COUNTRY</div>
<div class="tag" style="left:154px;width:67.4px;letter-spacing:1.5px">PROVINCE</div>
<div class="tag" style="left:251.6px;width:150.4px;letter-spacing:1.72px">DISTRICTS AND METROS</div>
<div class="hr"></div>
<div class="youth">YOUTH</div>
<div class="val med">39.3%</div>
</div>
<div id="legend">
<svg class="abs" style="left:13px;top:9px" width="31" height="28" viewBox="0 0 31 28"><path fill="#2e2e2e" stroke="#2e2e2e" stroke-width="0.9" stroke-linejoin="round" d="M2.1 14.4 L3.6 13.7 L5.7 15.1 L7.5 12.5 L7.8 6.2 L9 6 L9.9 12 L11.6 12.3 L14.2 9 L16.1 9.2 L18 8.2 L19.9 5.9 L21.3 2.6 L23.6 0.8 L26 0.8 L27.8 3 L28.3 6.3 L27.2 8.7 L27.4 11 L29.2 12 L28.5 14.4 L26.5 17.2 L23.6 20.5 L19.9 23.8 L14.7 26 L7.6 27.1 L5.3 26.2 L4.5 23.8 L5.2 20 L3.6 17.2 Z"/></svg>
<div class="title med">NEET status (NEET)</div>
<div class="chip">1 of 3 filters applied</div>
<div class="blue"><svg class="abs" style="left:6.6px;top:6.9px" width="12" height="12" viewBox="0 0 12 12"><path d="M8.9 3.9 A3.6 3.6 0 1 0 8.5 8.8" fill="none" stroke="#fff" stroke-width="2.3" stroke-linecap="butt"/><path d="M10.9 1.3 V5.9 H6.3 Z" fill="#fff"/></svg></div>
<svg class="abs" style="left:696.7px;top:13.5px" width="18" height="18" viewBox="0 0 18 18"><circle cx="9" cy="9" r="8.9" fill="#272727"/><path d="M8.1 4.2h2v1.9h-2z M7.5 7.4h2.6v4.4h0.8v1.5H7.5v-1.5h0.9V8.9h-0.9z" fill="#fff"/></svg>
<svg class="abs" style="left:738px;top:13px" width="24" height="18" viewBox="0 0 24 18"><path d="M3.6 13.2 L12 5 L20.4 13.2" fill="none" stroke="#2c2c2c" stroke-width="2.3"/></svg>
<svg class="abs" style="left:785.4px;top:13.4px" width="20" height="19" viewBox="0 0 20 19"><path d="M2.2 1.8 L17.8 17.2 M17.8 1.8 L2.2 17.2" fill="none" stroke="#2c2c2c" stroke-width="2.3"/></svg>
<div class="hr"></div>
<div class="lg">LEGEND:</div>
<div class="lb" style="left:77.9px;background:#f3f3f3;color:#777">0%</div>
<div class="lb" style="left:190.55px;background:#f4cdc6;color:#8a6f6b">15%</div>
<div class="lb" style="left:303.2px;background:#e8a19b;color:#fff">29%</div>
<div class="lb" style="left:415.85px;background:#de7d79;color:#fff">44%</div>
<div class="lb" style="left:528.5px;background:#d25f5a;color:#fff">59%</div>
<div class="oac">of all categories</div>
<svg class="abs" style="left:781.3px;top:59.6px" width="25" height="25" viewBox="0 0 25 25"><circle cx="12.5" cy="12.5" r="12.4" fill="#3c3c3c"/><text x="12.5" y="19" text-anchor="middle" font-family="'Liberation Sans',sans-serif" font-weight="bold" font-size="17" fill="#fff">?</text></svg>
</div>
<div id="topline"></div>
<div id="pill"></div>
<span class="cond" style="left:921px;top:29.3px;font-size:23.5px;line-height:28.2px;color:#fff;transform:scaleX(0.842);font-weight:normal;letter-spacing:0px;">City Of Cape Town</span>
<span class="cond" style="left:920.8px;top:102.2px;font-size:18.6px;line-height:22.3px;color:#6a6a6a;transform:scaleX(0.86);font-weight:bold;letter-spacing:1.2px;">INDICATOR FILTERS</span>
<div class="card" style="top:141.4px;height:65.7px"></div>
<div class="sel dis" style="left:929.5px;top:151.2px;width:596.4px"></div>
<span class="cond" style="left:946.8px;top:158.7px;font-size:23.5px;line-height:28.2px;color:#a9a9a9;transform:scaleX(0.865);font-weight:normal;letter-spacing:0px;">age group</span>
<div class="arr dis" style="left:1491px;top:171.4px"></div>
<div class="colon" style="left:1536.5px;top:160.6px">:</div>
<div class="sel" style="left:1554.4px;top:151.2px;width:596.6px"></div>
<span class="cond" style="left:1572.3px;top:158.7px;font-size:23.5px;line-height:28.2px;color:#2e2e2e;transform:scaleX(0.857);font-weight:normal;letter-spacing:0px;">15-35 (ZA)</span>
<div class="arr" style="left:2116.5px;top:171.4px"></div>
<div class="card" style="top:224.4px;height:65.2px"></div>
<div class="sel" style="left:929.5px;top:234.3px;width:578.4px"></div>
<span class="cond" style="left:946.8px;top:241.5px;font-size:23.5px;line-height:28.2px;color:#222;transform:scaleX(0.864);font-weight:normal;letter-spacing:0px;">gender</span>
<div class="arr" style="left:1474.6px;top:253.6px"></div>
<div class="colon" style="left:1519.4px;top:243.6px">:</div>
<div class="sel" style="left:1537.3px;top:234.3px;width:578.7px"></div>
<span class="cond" style="left:1554.8px;top:241.5px;font-size:23.5px;line-height:28.2px;color:#2e2e2e;transform:scaleX(0.852);font-weight:normal;letter-spacing:0px;">Female</span>
<div class="arr" style="left:2081.6px;top:253.6px"></div>
<svg class="abs" style="left:2127.5px;top:244px" width="24" height="25" viewBox="0 0 24 25"><path d="M2.6 2.2 L21.4 23 M21.4 2.2 L2.6 23" fill="none" stroke="#2a2a2a" stroke-width="2.6"/></svg>
<div id="addf"></div>
<span class="cond" style="left:1459px;top:337.1px;font-size:23.5px;line-height:28.2px;color:#303030;transform:scaleX(0.864);font-weight:normal;letter-spacing:0px;">Add new filter</span>
<svg class="abs" style="left:1596.6px;top:340px" width="24" height="24" viewBox="0 0 24 24"><path d="M12 0.7 V23.3 M1.7 12 H22.3" fill="none" stroke="#222" stroke-width="2.5"/></svg>
<svg class="abs" style="left:900px;top:430px" width="1309" height="417" viewBox="900 430 1309 417">
<g stroke="#d2d2d2" stroke-width="1.4" fill="none">
<path d="M977.8 453 V792"/>
<path d="M1217.34 453 V792"/>
<path d="M1456.88 453 V792"/>
<path d="M1696.42 453 V792"/>
<path d="M1935.96 453 V792"/>
<path d="M2175.5 453 V792"/>
<path d="M977.1 792 H2176.2"/>
</g>
<g font-family="'Liberation Sans',sans-serif" font-size="15" fill="#6b6b6b">
<rect x="977.8" y="486.3" width="259.8" height="50.6" fill="#38ac84"/>
<text x="985" y="480.9">School/post-school</text>
<text x="1245.2" y="516.2">22%</text>
<rect x="977.8" y="570.9" width="440.6" height="50.3" fill="#38ac84"/>
<text x="985" y="565.5">NEET</text>
<text x="1426" y="600.65">37%</text>
<rect x="977.8" y="655.5" width="495.2" height="50.6" fill="#38ac84"/>
<text x="985" y="650.1">Employed</text>
<text x="1480.6" y="685.4">41%</text>
</g>
<g font-family="'Liberation Sans',sans-serif" font-size="14.6" fill="#8c8c8c" text-anchor="middle">
<text x="977.8" y="816.4">0%</text>
<text x="1217.34" y="816.4">20%</text>
<text x="1456.88" y="816.4">40%</text>
<text x="1696.42" y="816.4">60%</text>
<text x="1935.96" y="816.4">80%</text>
<text x="2175.5" y="816.4">100%</text>
</g></svg>
</div>
</body></html>
